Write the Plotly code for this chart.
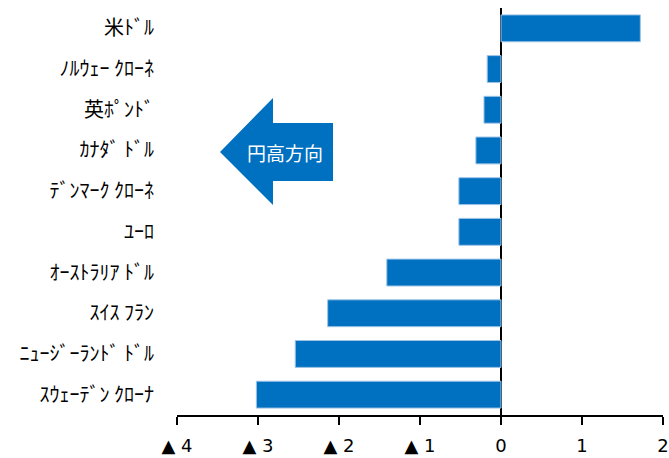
import plotly.graph_objects as go

categories = ["米ﾄﾞﾙ", "ﾉﾙｳｪｰ ｸﾛｰﾈ", "英ﾎﾟﾝﾄﾞ", "ｶﾅﾀﾞ ﾄﾞﾙ", "ﾃﾞﾝﾏｰｸ ｸﾛｰﾈ",
              "ﾕｰﾛ", "ｵｰｽﾄﾗﾘｱ ﾄﾞﾙ", "ｽｲｽ ﾌﾗﾝ", "ﾆｭｰｼﾞｰﾗﾝﾄﾞ ﾄﾞﾙ", "ｽｳｪｰﾃﾞﾝ ｸﾛｰﾅ"]
values = [1.72, -0.17, -0.21, -0.31, -0.52, -0.52, -1.41, -2.14, -2.54, -3.02]
tick_vals = [-4, -3, -2, -1, 0, 1, 2]
tick_text = ["▲ 4", "▲ 3", "▲ 2", "▲ 1", "0", "1", "2"]

W, H = 669, 458
L, R, T, B = 177, 6, 8, 43
pw, ph = W - L - R, H - T - B

def px(x):
    return (x - L) / pw

def py(y):
    return (H - B - y) / ph

fig = go.Figure(go.Bar(
    y=categories, x=values, orientation="h",
    marker=dict(color="#0070C0", line=dict(color="#9DC3E6", width=1)),
))

arrow = [(220, 152), (273, 98), (273, 123), (333, 123), (333, 181), (273, 181), (273, 205)]
path = "M " + " L ".join(f"{px(a):.4f},{py(b):.4f}" for a, b in arrow) + " Z"

fig.update_layout(
    template="none",
    width=W, height=H,
    margin=dict(l=L, r=R, t=T, b=B, pad=0),
    plot_bgcolor="white", paper_bgcolor="white",
    bargap=0.34, showlegend=False,
    xaxis=dict(range=[-4, 2], tickvals=tick_vals, ticktext=tick_text, automargin=False,
               showgrid=False, zeroline=True, zerolinecolor="black", zerolinewidth=2,
               showline=True, linecolor="black", linewidth=2,
               ticks="outside", ticklen=8, tickwidth=2, tickcolor="black",
               ticklabelstandoff=5,
               tickfont=dict(family="DejaVu Sans", size=18, color="black")),
    yaxis=dict(autorange="reversed", showgrid=False, showline=False, ticks="",
               zeroline=False, automargin=False, ticklabelstandoff=22,
               tickfont=dict(family="Noto Sans CJK JP", size=20, color="black")),
    shapes=[dict(type="path", xref="paper", yref="paper", path=path,
                 fillcolor="#0070C0", line=dict(width=0), layer="above")],
    annotations=[dict(x=px(285), y=py(152), xref="paper", yref="paper",
                      xanchor="center", yanchor="middle",
                      text="円高方向", showarrow=False,
                      font=dict(family="Noto Sans CJK JP", size=19, color="white"))],
)

fig.write_html("out.html")
